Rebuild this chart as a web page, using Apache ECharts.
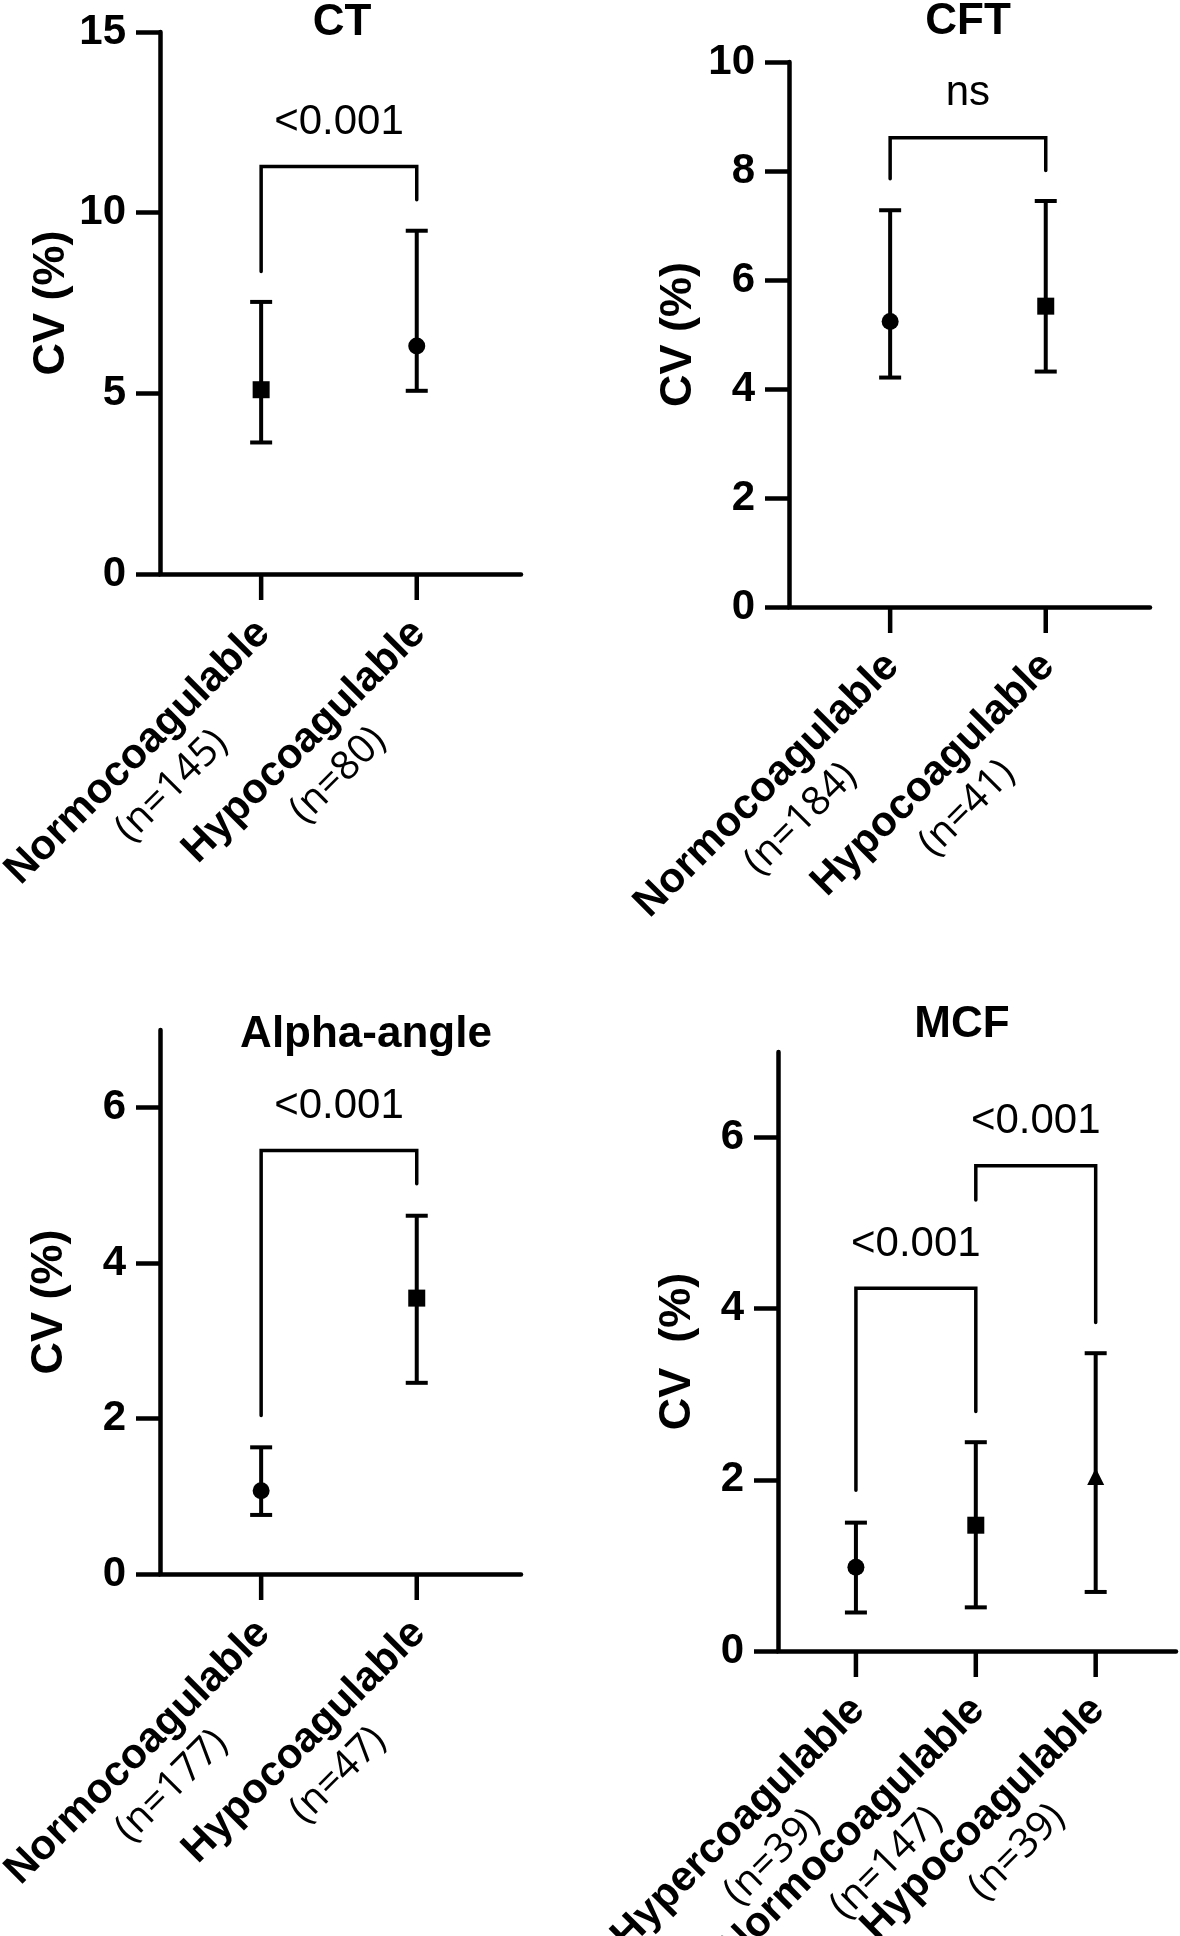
<!DOCTYPE html>
<html>
<head>
<meta charset="utf-8">
<script src="https://cdn.jsdelivr.net/npm/echarts@6/dist/echarts.min.js"></script>
<style>
  html, body { margin: 0; padding: 0; background: #fff; }
  #chart { width: 1180px; height: 1936px; }
</style>
</head>
<body>
<div id="chart"></div>
<script>
// CT
const ctGroups = ["Normocoagulable", "Hypocoagulable"];
const ctN = [145, 80];
const ctMean = [5.1, 6.31];
const ctLow = [3.64, 5.07];
const ctHigh = [7.53, 9.5];
const ctBrackets = [[0, 1, 11.28, 8.37, 10.36]]; // from, to, top, left end, right end
const ctP = ["<0.001"];
const ctTicks = [0, 5, 10, 15];

// CFT
const cftGroups = ["Normocoagulable", "Hypocoagulable"];
const cftN = [184, 41];
const cftMean = [5.24, 5.52];
const cftLow = [4.21, 4.32];
const cftHigh = [7.28, 7.45];
const cftBrackets = [[0, 1, 8.61, 7.86, 8.01]];
const cftP = ["ns"];
const cftTicks = [0, 2, 4, 6, 8, 10];

// Alpha-angle
const alphaGroups = ["Normocoagulable", "Hypocoagulable"];
const alphaN = [177, 47];
const alphaMean = [1.07, 3.55];
const alphaLow = [0.76, 2.46];
const alphaHigh = [1.63, 4.61];
const alphaBrackets = [[0, 1, 5.45, 2.04, 5.02]];
const alphaP = ["<0.001"];
const alphaTicks = [0, 2, 4, 6];

// MCF
const mcfGroups = ["Hypercoagulable", "Normocoagulable", "Hypocoagulable"];
const mcfN = [39, 147, 39];
const mcfMean = [0.98, 1.47, 2.04];
const mcfLow = [0.45, 0.51, 0.69];
const mcfHigh = [1.5, 2.44, 3.48];
const mcfBrackets = [[0, 1, 4.24, 1.88, 2.8], [1, 2, 5.67, 5.27, 3.84]];
const mcfP = ["<0.001", "<0.001"];
const mcfTicks = [0, 2, 4, 6];

const FONT = '"Liberation Sans", Arial, sans-serif';
const black = "#000";

const panels = [
  { title: "CT", titleX: 342, titleY: 23, yName: "CV (%)", nameGap: 86, max: 15, ticks: ctTicks,
    groups: ctGroups, n: ctN, mean: ctMean, low: ctLow, high: ctHigh,
    brackets: ctBrackets, p: ctP, symbols: ["rect", "circle"],
    grid: { left: 160, top: 32, width: 361, height: 542 } },
  { title: "CFT", titleX: 968, titleY: 22, yName: "CV (%)", nameGap: 88, max: 10, ticks: cftTicks,
    groups: cftGroups, n: cftN, mean: cftMean, low: cftLow, high: cftHigh,
    brackets: cftBrackets, p: cftP, symbols: ["circle", "rect"],
    grid: { left: 789, top: 62, width: 361, height: 545 } },
  { title: "Alpha-angle", titleX: 366, titleY: 1035, yName: "CV (%)", nameGap: 88, max: 7, ticks: alphaTicks,
    groups: alphaGroups, n: alphaN, mean: alphaMean, low: alphaLow, high: alphaHigh,
    brackets: alphaBrackets, p: alphaP, symbols: ["circle", "rect"],
    grid: { left: 160, top: 1030, width: 361, height: 544 } },
  { title: "MCF", titleX: 962, titleY: 1025, yName: "CV  (%)", nameGap: 78, max: 7, ticks: mcfTicks,
    groups: mcfGroups, n: mcfN, mean: mcfMean, low: mcfLow, high: mcfHigh,
    brackets: mcfBrackets, p: mcfP, symbols: ["circle", "rect", "triangle"],
    grid: { left: 778, top: 1052, width: 398, height: 599 } },
];

const renderErrorBar = (params, api) => {
  const x = api.value(0);
  const lo = api.coord([x, api.value(2)]);
  const hi = api.coord([x, api.value(3)]);
  const style = { stroke: black, lineWidth: 4 };
  const cap = 11;
  return {
    type: "group",
    children: [
      { type: "line", shape: { x1: lo[0], y1: lo[1], x2: hi[0], y2: hi[1] }, style },
      { type: "line", shape: { x1: lo[0] - cap, y1: lo[1], x2: lo[0] + cap, y2: lo[1] }, style },
      { type: "line", shape: { x1: hi[0] - cap, y1: hi[1], x2: hi[0] + cap, y2: hi[1] }, style },
    ],
  };
};

const bracketRenderer = (labels) => (params, api) => {
  const a = api.value(0), b = api.value(1), top = api.value(2);
  const p0 = api.coord([a, api.value(3)]);
  const p1 = api.coord([a, top]);
  const p2 = api.coord([b, top]);
  const p3 = api.coord([b, api.value(4)]);
  const mid = api.coord([(a + b) / 2, top]);
  return {
    type: "group",
    children: [
      { type: "polyline", shape: { points: [p0, p1, p2, p3] },
        style: { stroke: black, lineWidth: 3.5, fill: "none", lineCap: "round" } },
      { type: "text", x: mid[0], y: mid[1] - 44,
        style: { text: labels[params.dataIndex], fill: black, fontSize: 42, fontFamily: FONT,
                 align: "center", verticalAlign: "middle" } },
    ],
  };
};

// category ticks and rotated two-line labels under the x axis
const labelRich = {
  a: { fontFamily: FONT, fontWeight: "bold", fontSize: 42, fill: black, align: "center", lineHeight: 48 },
  b: { fontFamily: '"Open Sans", sans-serif', fontWeight: "normal", fontSize: 40, fill: black, align: "center", lineHeight: 48 },
};
const groupLabelRenderer = (p) => (params, api) => {
  const i = api.value(0);
  const base = api.coord([i, 0]);
  return {
    type: "group",
    children: [
      { type: "line", shape: { x1: base[0], y1: base[1], x2: base[0], y2: base[1] + 26 },
        style: { stroke: black, lineWidth: 4.5 } },
      { type: "text", x: base[0], y: base[1] + 21, rotation: Math.PI / 4,
        style: {
          text: "{a|" + p.groups[i] + "}\n{b|(n=" + p.n[i] + ")}",
          rich: labelRich,
          align: "right",
          verticalAlign: "top",
          padding: [0, 21, 0, 0],
        } },
    ],
  };
};

const lineStyle = { color: black, width: 4.5 };
const grids = [], xAxes = [], yAxes = [], series = [], graphics = [];

panels.forEach((p, k) => {
  const idx = p.groups.map((g, i) => i);
  grids.push(Object.assign({ outerBoundsMode: "none", containLabel: false }, p.grid));
  xAxes.push({
    gridIndex: k,
    type: "value",
    min: -0.65,
    max: p.groups.length - 1 + 0.67,
    axisLine: { show: true, onZero: false, lineStyle },
    axisTick: { show: false },
    axisLabel: { show: false },
    splitLine: { show: false },
  });
  yAxes.push({
    gridIndex: k,
    type: "value",
    min: 0,
    max: p.max,
    name: p.yName,
    nameLocation: "middle",
    nameGap: p.nameGap,
    nameTextStyle: { fontFamily: FONT, fontWeight: "bold", fontSize: 45, color: black },
    axisLine: { show: true, onZero: false, lineStyle },
    axisTick: { show: true, length: 24, lineStyle, customValues: p.ticks },
    axisLabel: { customValues: p.ticks, margin: 34, fontFamily: FONT, fontWeight: "bold", fontSize: 42, color: black },
    splitLine: { show: false },
  });
  series.push({
    type: "custom",
    xAxisIndex: k,
    yAxisIndex: k,
    renderItem: groupLabelRenderer(p),
    encode: { x: 0, y: 1 },
    data: idx.map((i) => [i, 0]),
    clip: false,
  });
  series.push({
    type: "custom",
    xAxisIndex: k,
    yAxisIndex: k,
    renderItem: renderErrorBar,
    encode: { x: 0, y: [1, 2, 3] },
    data: idx.map((i) => [i, p.mean[i], p.low[i], p.high[i]]),
  });
  series.push({
    type: "scatter",
    xAxisIndex: k,
    yAxisIndex: k,
    symbolSize: 17,
    itemStyle: { color: black, opacity: 1 },
    data: idx.map((i) => ({ value: [i, p.mean[i]], symbol: p.symbols[i] })),
  });
  series.push({
    type: "custom",
    xAxisIndex: k,
    yAxisIndex: k,
    renderItem: bracketRenderer(p.p),
    encode: { x: [0, 1], y: [2, 3, 4] },
    data: p.brackets,
  });
  graphics.push({
    type: "text",
    x: p.titleX,
    y: p.titleY,
    style: { text: p.title, fill: black, fontFamily: FONT, fontWeight: "bold", fontSize: 44,
             align: "center", verticalAlign: "middle" },
  });
});

const chart = echarts.init(document.getElementById("chart"));
chart.setOption({
  backgroundColor: "#fff",
  animation: false,
  textStyle: { fontFamily: FONT },
  grid: grids,
  xAxis: xAxes,
  yAxis: yAxes,
  series,
  graphic: graphics,
});
</script>
</body>
</html>
